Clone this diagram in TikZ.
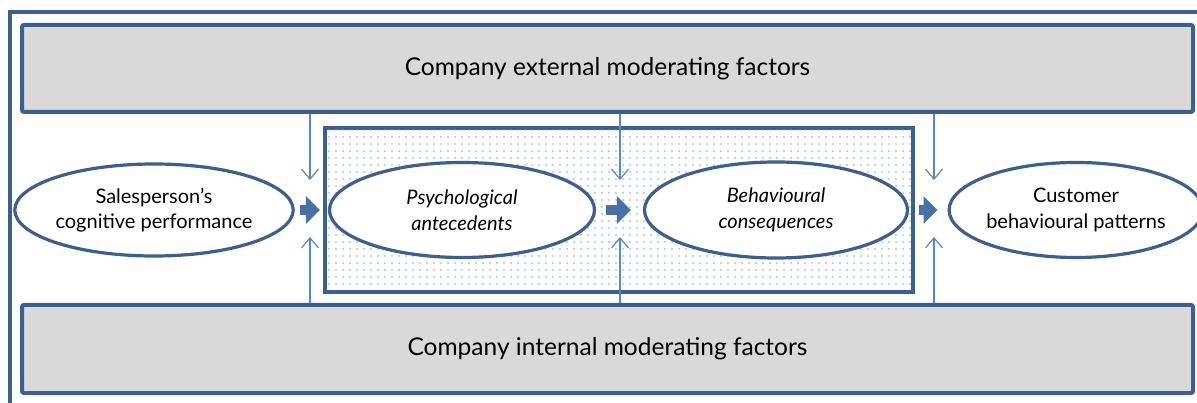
\documentclass[tikz,border=0pt]{standalone}
\usepackage{fontspec}
\setmainfont{Lato}
\usetikzlibrary{arrows.meta,shapes.geometric,patterns.meta}
\definecolor{frameblue}{HTML}{3C5F8F}
\definecolor{thinblue}{HTML}{5A87C0}
\definecolor{arrowblue}{HTML}{4A70A4}
\definecolor{dotblue}{HTML}{8CA6D4}
\definecolor{boxgray}{HTML}{D9D9D9}
\tikzset{
  band/.style={draw=frameblue, line width=4pt, fill=boxgray, rounded corners=2pt, inner sep=0pt, font=\fontsize{24.5}{29}\selectfont},
  oval/.style={draw=frameblue, line width=3.2pt, fill=white, ellipse, inner sep=0pt, align=center, font=\fontsize{20}{25.5}\selectfont},
  blockarrow/.style={draw=arrowblue, line width=10pt, -{Triangle[length=14pt,width=27pt]}},
  thinarrow/.style={draw=thinblue, line width=1.2pt, -{Straight Barb[length=10pt,width=17pt,line width=1.2pt]}},
}
\begin{document}
\begin{tikzpicture}[x=1pt,y=-1pt]
\useasboundingbox (0,0) rectangle (1197,403);
\begin{scope}
\clip (0,0) rectangle (1197,403);
\draw[frameblue, line width=3.5pt] (10,430) -- (10,12) -- (1230,12);
\end{scope}
% bands
\node[band, minimum width=1171pt, minimum height=87pt] (top) at (607.5,68.5) {Company external moderating factors};
\node[band, minimum width=1171pt, minimum height=88pt] (bot) at (607.5,349) {Company internal moderating factors};
% dotted box
\node[draw=frameblue, line width=4pt, fill=white, minimum width=588pt, minimum height=164pt, inner sep=0pt] (mid) at (619,210) {};
\fill[pattern={Dots[distance=7pt, radius=0.85pt]}, pattern color=dotblue] (327,130) rectangle (911,290);
% ovals
\node[oval, minimum width=268pt, minimum height=92pt] (sales) at (154,210) {Salesperson’s\\cognitive performance};
\node[oval, minimum width=265pt, minimum height=95pt] (psych) at (462,210) {\itshape Psychological\\\itshape antecedents};
\node[oval, minimum width=263pt, minimum height=96pt] (behav) at (776,210) {\itshape Behavioural\\\itshape consequences};
\node[oval, minimum width=237pt, minimum height=95pt] (cust) at (1076,210) {Customer\\behavioural patterns};
% block arrows
\draw[blockarrow, shorten <=5pt, shorten >=8pt] (sales) -- (psych);
\draw[blockarrow, shorten <=10pt, shorten >=12pt] (psych) -- (behav);
\draw[blockarrow, shorten <=10pt, shorten >=10pt] (behav) -- (cust);
% thin arrows
\coordinate (t1) at (310,180); \coordinate (b1) at (310,237);
\coordinate (t2) at (620,180); \coordinate (b2) at (620,237);
\coordinate (t3) at (934,180); \coordinate (b3) at (934,237);
\foreach \i in {1,2,3}{
  \draw[thinarrow] (top.south -| t\i) -- (t\i);
  \draw[thinarrow] (bot.north -| b\i) -- (b\i);
}
\end{tikzpicture}
\end{document}
